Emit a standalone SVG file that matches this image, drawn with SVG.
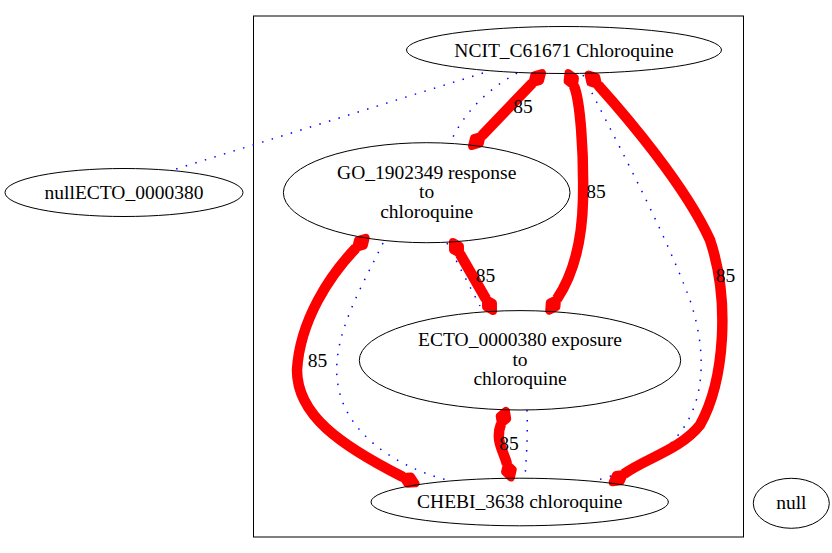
<svg xmlns="http://www.w3.org/2000/svg" width="832" height="553" viewBox="0 0 832 553">
<style>
.node ellipse{fill:none;stroke:#000;stroke-width:1}
.red{fill:none;stroke:#ff0000;stroke-width:10.5;marker-start:url(#dia);marker-end:url(#dia)}
.dot{fill:none;stroke:#0000ff;stroke-width:1.5;stroke-dasharray:1.5,8.5}
</style>
<defs>
<marker id="dia" markerUnits="userSpaceOnUse" markerWidth="30" markerHeight="30" refX="0" refY="0" orient="auto-start-reverse" overflow="visible" viewBox="-10 -10 30 20">
<path d="M0,0 L7,-4 L14,0 L7,4 Z" fill="#ff0000" stroke="#ff0000" stroke-width="8" stroke-linejoin="round"/>
</marker>
</defs>
<rect x="0" y="0" width="832" height="553" fill="#fff"/>
<g font-family="Liberation Serif, Times New Roman, serif" font-size="19.5" text-anchor="middle" fill="#000">
<g id="cluster"><rect x="253.5" y="16" width="490" height="521" fill="none" stroke="#000" stroke-width="1"/></g>
<g id="connectors">
<path class="dot" d="M483,73 L173,170"/>
<path class="dot" d="M517,73 C490,88 465,110 450,143"/>
<path class="dot" d="M583,75 C610,130 660,220 690,300 C710,360 705,420 660,452 C640,466 615,476 597,480"/>
<path class="dot" d="M447,243 L480,306"/>
<path class="dot" d="M383,243 C360,290 330,340 338,385 C345,430 390,465 447,480"/>
<path class="dot" d="M527,410 C528,440 526,460 525,478"/>
<path class="red" d="M532.3,83.1 L481.7,135.9"/>
<path class="red" d="M574,86 C580,100 584,150 583,200 C582,245 571,278 557,299"/>
<path class="red" d="M598,85 C625,115 685,185 710,240 C730,300 725,380 700,425 C680,450 646,458 624,474"/>
<path class="red" d="M460,254 L486,299"/>
<path class="red" d="M356,248 C330,275 300,320 297,370 C297,415 340,445 403,477"/>
<path class="red" d="M501,424 C495,440 503,450 507,464"/>
<text x="523" y="113">85</text>
<text x="596" y="198">85</text>
<text x="725.5" y="282">85</text>
<text x="485.5" y="282">85</text>
<text x="317.5" y="366.5">85</text>
<text x="509" y="450">85</text>
</g>
<g id="NCIT_C61671" class="node"><ellipse cx="564" cy="50" rx="157.5" ry="23.5"/><text x="564" y="56.5">NCIT_C61671 Chloroquine</text></g>
<g id="GO_1902349" class="node"><ellipse cx="426.7" cy="192.7" rx="143.3" ry="50"/><text x="426.7" y="178.5">GO_1902349 response</text><text x="426.7" y="198">to</text><text x="426.7" y="217.5">chloroquine</text></g>
<g id="ECTO_0000380" class="node"><ellipse cx="520" cy="360.3" rx="160.7" ry="49.7"/><text x="520" y="346">ECTO_0000380 exposure</text><text x="520" y="365.5">to</text><text x="520" y="385">chloroquine</text></g>
<g id="CHEBI_3638" class="node"><ellipse cx="519.7" cy="502" rx="148.7" ry="23.8"/><text x="519.7" y="508">CHEBI_3638 chloroquine</text></g>
<g id="nullECTO_0000380" class="node"><ellipse cx="124" cy="192.5" rx="119" ry="24"/><text x="124" y="198.5">nullECTO_0000380</text></g>
<g id="null" class="node"><ellipse cx="791.3" cy="503.3" rx="38" ry="25"/><text x="791.3" y="509">null</text></g>
</g>
</svg>
